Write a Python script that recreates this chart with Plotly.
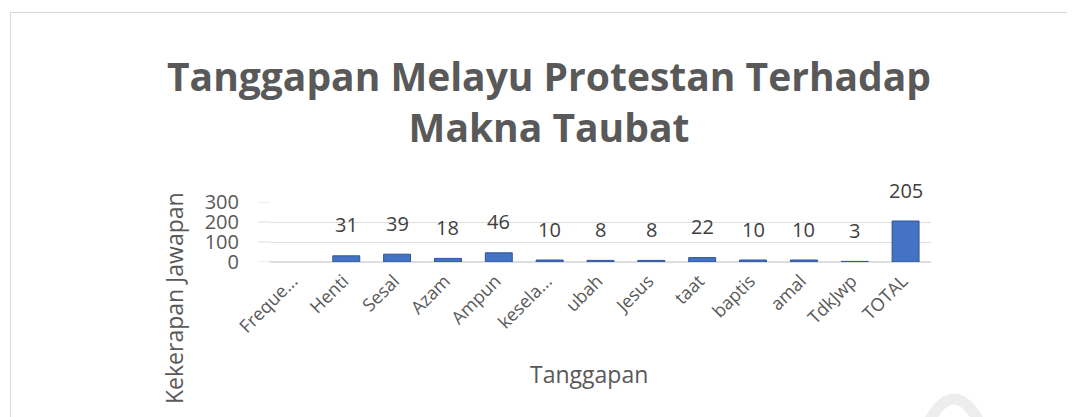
import plotly.graph_objects as go

categories = ["Freque...", "Henti", "Sesal", "Azam", "Ampun", "kesela...", "ubah",
              "Jesus", "taat", "baptis", "amal", "TdkJwp", "TOTAL"]
values = [None, 31, 39, 18, 46, 10, 8, 8, 22, 10, 10, 3, 205]
y_ticks = [0, 100, 200, 300]

title_text = "Tanggapan Melayu Protestan Terhadap<br>Makna Taubat"
x_title = "Tanggapan"
y_title = "Kekerapan Jawapan"

# the page body has an 8px margin: figure origin sits at (8, 8) in the window
OX, OY = 8, 8
W, H = 1075 - OX, 417 - OY
# target plot area in window pixels: x 270..931, y 202..262
L, R, T, B = 270 - OX, W - (931 - OX), 202 - OY, H - (262 - OY)
pw, ph = W - L - R, H - T - B

def px2x(p):   # window pixel -> paper x
    return (p - OX - L) / pw

def py2y(p):   # window pixel -> paper y
    return (H - B - (p - OY)) / ph

GRID = "#DEDEDE"

fig = go.Figure()
fig.add_trace(go.Bar(
    x=categories, y=values, width=0.53,
    marker=dict(color="#4472C4", line=dict(color="#2F5597", width=1)),
    hoverinfo="x+y",
))

# data labels
for c, v in zip(categories, values):
    if v is None:
        continue
    fig.add_annotation(x=c, y=v, text=str(v), showarrow=False, yanchor="middle",
                       yshift=31, font=dict(family="Open Sans", size=20, color="#404040"))

# y-axis title
fig.add_annotation(xref="paper", yref="paper", x=px2x(174), y=py2y(298), text=y_title,
                   textangle=-90, showarrow=False, xanchor="center", yanchor="middle",
                   font=dict(family="Open Sans", size=23, color="#595959"))
# x-axis title
fig.add_annotation(xref="paper", yref="paper", x=px2x(589), y=py2y(374), text=x_title,
                   showarrow=False, xanchor="center", yanchor="middle",
                   font=dict(family="Open Sans", size=23, color="#595959"))
# title
fig.add_annotation(xref="paper", yref="paper", x=px2x(549), y=py2y(101), text=title_text,
                   showarrow=False, xanchor="center", yanchor="middle",
                   font=dict(family="Open Sans", size=39, color="#595959", weight="bold"))

# gridline extension toward the back wall
for t in y_ticks:
    fig.add_shape(type="line", xref="paper", yref="y", x0=px2x(258), x1=0, y0=t, y1=t,
                  line=dict(color=GRID, width=1), layer="below")

# chart border
fig.add_shape(type="rect", xref="paper", yref="paper",
              x0=px2x(10.5), x1=px2x(1090), y0=py2y(430), y1=py2y(12.5),
              line=dict(color="#D9D9D9", width=1), fillcolor="rgba(0,0,0,0)", layer="below")

# faint watermark arc at bottom right
ax0, ax1, apk = px2x(927), px2x(981), py2y(399)
ab = py2y(425)
fig.add_shape(type="path", xref="paper", yref="paper",
              path=f"M {ax0} {ab} Q {(ax0+ax1)/2} {apk + (apk-ab)} {ax1} {ab}",
              line=dict(color="#EDEDED", width=11), fillcolor="rgba(0,0,0,0)", layer="below")

fig.update_layout(
    width=W, height=H,
    margin=dict(l=L, r=R, t=T, b=B, pad=0),
    paper_bgcolor="white", plot_bgcolor="white",
    showlegend=False,
    font=dict(family="Open Sans", color="#595959"),
)
fig.update_xaxes(
    type="category", tickangle=-45, showgrid=False, showline=False, ticks="",
    tickfont=dict(family="Open Sans", size=18, color="#595959"),
    ticklabelstandoff=4, ticklabelshift=-3, automargin=False,
)
fig.update_yaxes(
    range=[0, 300], tickvals=y_ticks, showgrid=True, gridcolor=GRID,
    zeroline=True, zerolinecolor=GRID, showline=False, ticks="",
    tickfont=dict(family="Open Sans", size=20, color="#595959"),
    ticklabelstandoff=30, automargin=False,
)

fig.write_html("out.html")
